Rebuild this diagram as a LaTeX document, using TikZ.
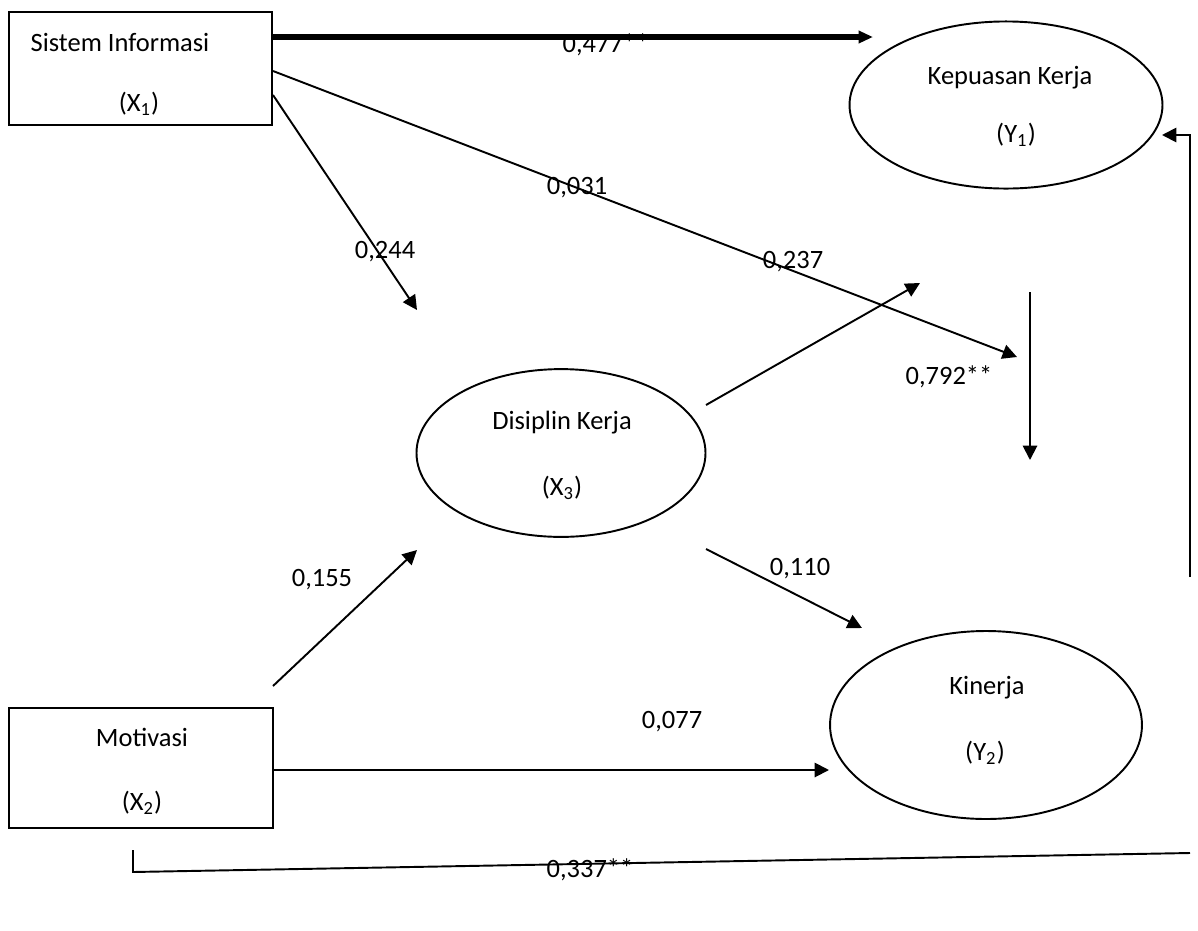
\documentclass[tikz,border=0pt]{standalone}
\usepackage{fontspec}
\setmainfont{Carlito}
\usetikzlibrary{shapes.geometric,arrows.meta}
\tikzstyle{box}=[draw=black, shape=rectangle, line width=0.8pt, inner sep=0pt]
\tikzstyle{var}=[draw=black, shape=ellipse, line width=0.8pt, inner sep=0pt]
\tikzstyle{txt}=[inner sep=0pt]
\tikzstyle{conn}=[line width=0.8pt, -{Triangle[length=6pt,width=6pt]}]
\tikzstyle{heavy}=[line width=2.2pt, -{Triangle[length=6pt,width=5pt]}]

\begin{document}
\begin{tikzpicture}[x=0.0146cm, y=-0.0146cm, font=\fontsize{11}{13}\selectfont]
		\useasboundingbox (0, 0) rectangle (1198, 931);

		% the four variables
		\node [style=box, minimum width=3.84cm, minimum height=1.65cm] (1) at (140.5, 68.5) {};
		\node [style=box, minimum width=3.854cm, minimum height=1.752cm] (2) at (141, 768) {};
		\node [style=var, minimum width=4.22cm, minimum height=2.45cm] (3) at (561, 453) {};
		\node [style=var, minimum width=4.57cm, minimum height=2.44cm] (4) at (1006, 105) {};
		\node [style=var, minimum width=4.555cm, minimum height=2.745cm] (5) at (986, 725) {};

		\node [style=txt] (11) at (120, 42) {Sistem Informasi};
		\node [style=txt] (12) at (139, 104) {(X\textsubscript{1})};
		\node [style=txt] (21) at (142, 737) {Motivasi};
		\node [style=txt] (22) at (142, 803) {(X\textsubscript{2})};
		\node [style=txt] (31) at (562, 423) {Disiplin Kerja};
		\node [style=txt] (32) at (562, 488) {(X\textsubscript{3})};
		\node [style=txt] (41) at (1010, 78) {Kepuasan Kerja};
		\node [style=txt] (42) at (1016, 135) {(Y\textsubscript{1})};
		\node [style=txt] (51) at (987, 688) {Kinerja};
		\node [style=txt] (52) at (985, 753) {(Y\textsubscript{2})};

		% coefficients
		\node [style=txt] (61) at (606, 45) {0,477**};
		\node [style=txt] (62) at (577, 188) {0,031};
		\node [style=txt] (63) at (385, 252) {0,244};
		\node [style=txt] (64) at (793, 262) {0,237};
		\node [style=txt] (65) at (949, 377) {0,792**};
		\node [style=txt] (66) at (322, 580) {0,155};
		\node [style=txt] (67) at (800, 569) {0,110};
		\node [style=txt] (68) at (672, 722) {0,077};
		\node [style=txt] (69) at (590, 870) {0,337**};

		% loose ends of the arrows
		\coordinate (a1) at (272, 37);
		\coordinate (a2) at (873, 37);
		\coordinate (b1) at (273, 71);
		\coordinate (b2) at (1017, 357);
		\coordinate (c1) at (273, 95);
		\coordinate (c2) at (417, 310);
		\coordinate (d1) at (706, 405);
		\coordinate (d2) at (920, 283);
		\coordinate (e1) at (1030, 292);
		\coordinate (e2) at (1030, 460);
		\coordinate (f1) at (706, 549);
		\coordinate (f2) at (862, 628);
		\coordinate (g1) at (273, 686);
		\coordinate (g2) at (417, 550);
		\coordinate (h1) at (273, 770);
		\coordinate (h2) at (829, 770);
		\coordinate (i1) at (1190, 577);
		\coordinate (i2) at (1190, 135);
		\coordinate (i3) at (1162, 135);
		\coordinate (j1) at (133, 850);
		\coordinate (j2) at (133, 872);
		\coordinate (j3) at (1190, 853);

		\draw [style=heavy] (a1) to (a2);
		\draw [style=conn] (b1) to (b2);
		\draw [style=conn] (c1) to (c2);
		\draw [style=conn] (d1) to (d2);
		\draw [style=conn] (e1) to (e2);
		\draw [style=conn] (f1) to (f2);
		\draw [style=conn] (g1) to (g2);
		\draw [style=conn] (h1) to (h2);
		\draw [style=conn] (i1) -- (i2) -- (i3);
		\draw [line width=0.8pt] (j1) -- (j2) -- (j3);
	\end{tikzpicture}
\end{document}
